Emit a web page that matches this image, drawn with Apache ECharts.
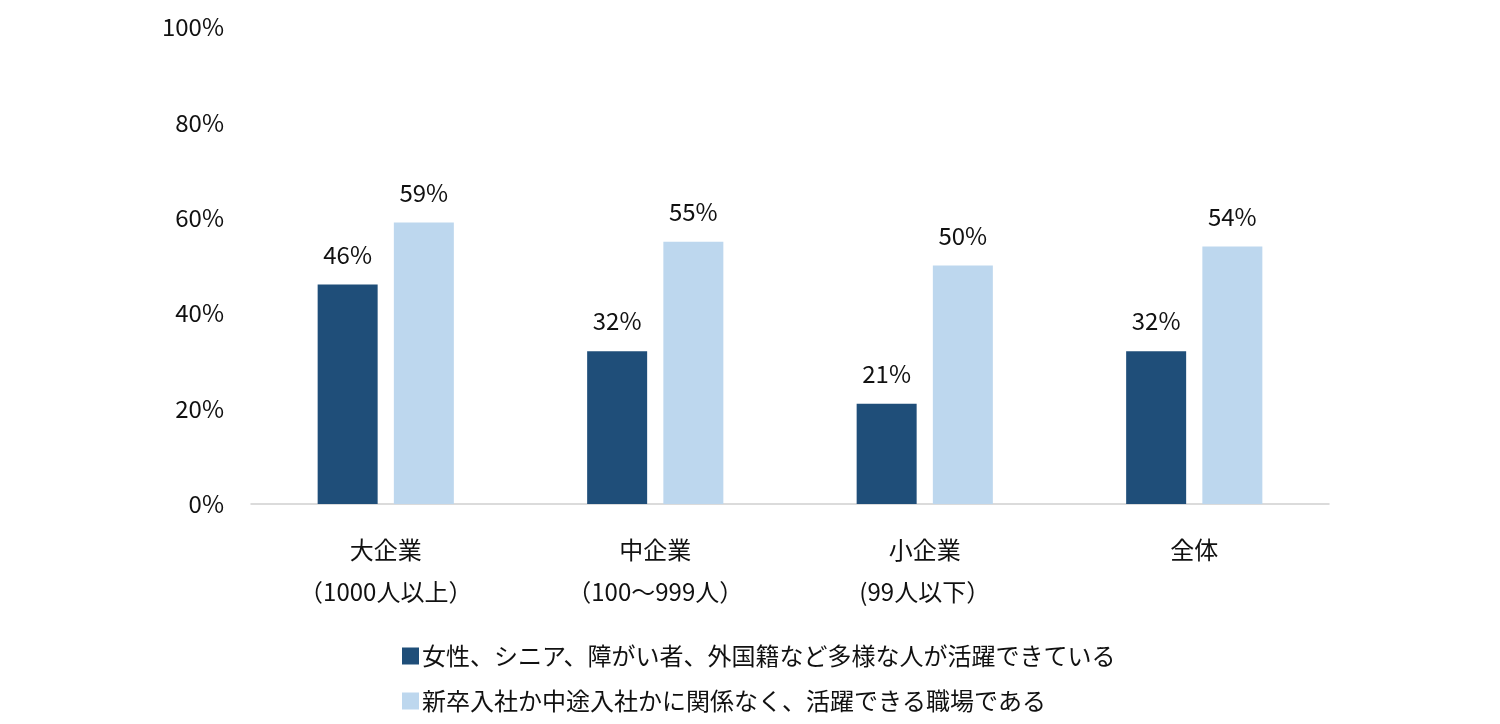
<!DOCTYPE html>
<html>
<head>
<meta charset="utf-8">
<style>
  html, body { margin: 0; padding: 0; background: #fff; }
  #chart { width: 1500px; height: 724px; }
</style>
<script src="https://cdn.jsdelivr.net/npm/echarts@6/dist/echarts.min.js"></script>
</head>
<body>
<div id="chart"></div>
<script>
// 企業規模ごとの回答割合（%）
var categories = ['大企業\n（1000人以上）', '中企業\n（100〜999人）', '小企業\n(99人以下）', '全体']
var seriesNames = [
  '女性、シニア、障がい者、外国籍など多様な人が活躍できている',
  '新卒入社か中途入社かに関係なく、活躍できる職場である'
]
var diverseValues = [46, 32, 21, 32]
var careerValues = [59, 55, 50, 54]
var yTicks = [0, 20, 40, 60, 80, 100]

var FONT = '"Noto Sans CJK JP", "Noto Sans", sans-serif'
var colors = ['#1F4E79', '#BDD7EE']

var myChart = echarts.init(document.getElementById('chart'))

function barSeries(name, data, color) {
  return {
    name: name,
    type: 'bar',
    data: data,
    barWidth: 60,
    barGap: '27%',
    itemStyle: { color: color },
    label: {
      show: true,
      position: 'top',
      distance: 18,
      formatter: '{c}%',
      color: '#111',
      fontSize: 24,
      fontFamily: FONT
    }
  }
}

var option = {
  animation: false,
  textStyle: { fontFamily: FONT },
  grid: { left: 251, right: 171, top: 27, bottom: 220, containLabel: false },
  xAxis: {
    type: 'category',
    data: categories,
    axisLine: { lineStyle: { color: '#d0d0d0', width: 1.5 } },
    axisTick: { show: false },
    axisLabel: {
      color: '#111',
      fontSize: 24,
      lineHeight: 42,
      margin: 25,
      fontFamily: FONT
    }
  },
  yAxis: {
    type: 'value',
    min: yTicks[0],
    max: yTicks[yTicks.length - 1],
    interval: 20,
    splitLine: { show: false },
    axisLine: { show: false },
    axisTick: { show: false },
    axisLabel: {
      formatter: '{value}%',
      color: '#111',
      fontSize: 24,
      margin: 27,
      fontFamily: FONT
    }
  },
  legend: {
    orient: 'vertical',
    left: 397,
    top: 639,
    itemWidth: 17,
    itemHeight: 17,
    itemGap: 21,
    icon: 'rect',
    textStyle: { color: '#111', fontSize: 24, fontFamily: FONT, padding: [0, 0, 0, -2] },
    data: seriesNames
  },
  series: [
    barSeries(seriesNames[0], diverseValues, colors[0]),
    barSeries(seriesNames[1], careerValues, colors[1])
  ]
}

myChart.setOption(option, true)
</script>
</body>
</html>
